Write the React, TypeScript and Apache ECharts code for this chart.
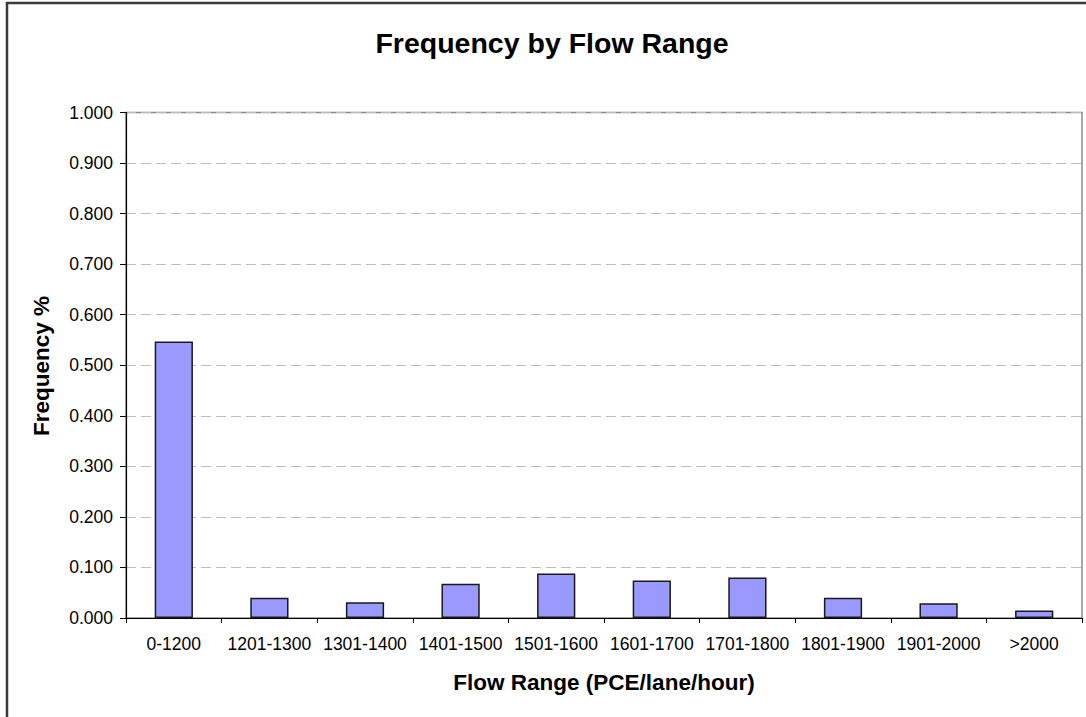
import React, { useEffect, useRef } from "react";
import * as echarts from "echarts";

const categories = ["0-1200", "1201-1300", "1301-1400", "1401-1500", "1501-1600", "1601-1700", "1701-1800", "1801-1900", "1901-2000", ">2000"];
const frequency = [0.547, 0.040, 0.031, 0.068, 0.088, 0.074, 0.080, 0.040, 0.029, 0.015];
const chartTitle = "Frequency by Flow Range";
const xTitle = "Flow Range (PCE/lane/hour)";
const yTitle = "Frequency %";

export default function App() {
  const ref = useRef<HTMLDivElement>(null);
  useEffect(() => {
    if (!ref.current) return;
    const chart = echarts.init(ref.current, null, { renderer: "svg" });
    const font = "Liberation Sans, Arial, Helvetica, sans-serif";
    chart.setOption({
      animation: false,
      backgroundColor: "#ffffff",
      grid: {
        left: 126,
        right: 4,
        top: 112.5,
        bottom: 99,
        show: true,
        borderColor: "#8c8c8c",
        borderWidth: 1.5,
        backgroundColor: "transparent",
      },
      xAxis: {
        type: "category",
        data: categories,
        boundaryGap: true,
        axisLine: { show: true, lineStyle: { color: "#000", width: 1.2 } },
        axisTick: { show: true, alignWithLabel: false, length: 5, lineStyle: { color: "#000" } },
        axisLabel: { color: "#000", fontSize: 17.5, fontFamily: font, margin: 17, interval: 0 },
        splitLine: { show: false },
      },
      yAxis: {
        type: "value",
        min: 0,
        max: 1,
        interval: 0.1,
        axisLine: { show: true, lineStyle: { color: "#000", width: 1.2 } },
        axisTick: { show: true, length: 6, lineStyle: { color: "#000" } },
        axisLabel: {
          color: "#000",
          fontSize: 17.5,
          fontFamily: font,
          margin: 13,
          formatter: (v: number) => v.toFixed(3),
        },
        splitLine: { show: true, lineStyle: { color: "#bdbdbd", type: [10, 5], width: 1.2 } },
      },
      series: [
        {
          type: "bar",
          data: frequency,
          barWidth: "40%",
          itemStyle: { color: "#9999ff", borderColor: "#1a1a1a", borderWidth: 1.5 },
        },
      ],
      graphic: [
        {
          type: "rect",
          shape: { x: 7, y: 3, width: 1200, height: 900 },
          style: { fill: "none", stroke: "#3a3a3a", lineWidth: 2.5 },
          silent: true,
        },
        {
          type: "text",
          x: 552,
          y: 43,
          style: {
            text: chartTitle,
            fill: "#000",
            font: `bold 28.5px ${font}`,
            textAlign: "center",
            textVerticalAlign: "middle",
          },
        },
        {
          type: "text",
          x: 604,
          y: 682,
          style: {
            text: xTitle,
            fill: "#000",
            font: `bold 22.5px ${font}`,
            textAlign: "center",
            textVerticalAlign: "middle",
          },
        },
        {
          type: "text",
          x: 41,
          y: 366,
          rotation: Math.PI / 2,
          style: {
            text: yTitle,
            fill: "#000",
            font: `bold 22.5px ${font}`,
            textAlign: "center",
            textVerticalAlign: "middle",
          },
        },
      ],
    });
    return () => chart.dispose();
  }, []);
  return (
    <div
      ref={ref}
      style={{ position: "fixed", left: 0, top: 0, width: 1086, height: 717 }}
    />
  );
}
